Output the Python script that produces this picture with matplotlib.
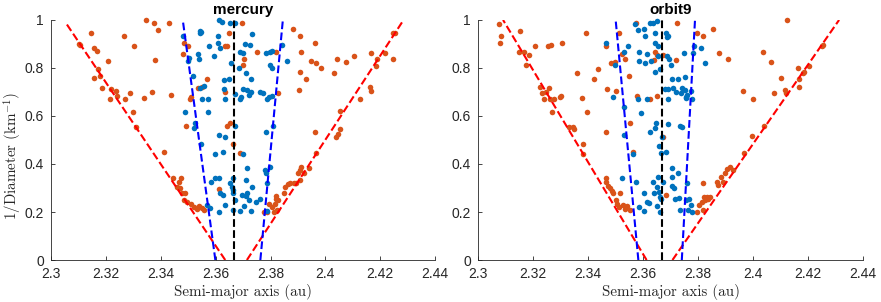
import numpy as np
import matplotlib
matplotlib.use("Agg")
import matplotlib.pyplot as plt
from matplotlib.ticker import FuncFormatter

plt.rcParams['font.family'] = ['Liberation Sans', 'DejaVu Sans']
plt.rcParams['mathtext.fontset'] = 'cm'
plt.rcParams['axes.formatter.use_mathtext'] = False

BLUE = '#0072BD'
ORANGE = '#D95319'

# ---- mercury panel -------------------------------------------------------
mercury_out_a = [
    2.3101, 2.3107, 2.3146, 2.3158, 2.3168, 2.3170, 2.3158, 2.3180, 2.3187,
    2.3206, 2.3216, 2.3220, 2.3238, 2.3240, 2.3271, 2.3289, 2.3267, 2.3301,
    2.3299, 2.3311, 2.3340, 2.3347, 2.3367, 2.3374, 2.3378, 2.3389, 2.3429,
    2.3438, 2.3413, 2.3443, 2.3465, 2.3474, 2.3459, 2.3471, 2.3477, 2.3489,
    2.3483, 2.3495, 2.3510, 2.3520, 2.3532, 2.3540, 2.3550, 2.3556, 2.3480,
    2.3486, 2.3499, 2.3493, 2.3508, 2.3511, 2.3535, 2.3550, 2.3568, 2.3611,
    2.3633, 2.3641, 2.3647, 2.3635, 2.3641, 2.3653, 2.3665, 2.3690, 2.3696,
    2.3698, 2.3705, 2.3750, 2.3777, 2.3787, 2.3793, 2.3805, 2.3811, 2.3820,
    2.3821, 2.3827, 2.3817, 2.3823, 2.3826, 2.3821, 2.3848, 2.3854, 2.3862,
    2.3872, 2.3884, 2.3894, 2.3902, 2.3906, 2.3908, 2.3911, 2.3923, 2.3939,
    2.3882, 2.3906, 2.3912, 2.3906, 2.3905, 2.3930, 2.3947, 2.3963, 2.3967,
    2.3984, 2.3963, 2.3967, 2.4030, 2.4042, 2.4038, 2.4045, 2.4054, 2.4052,
    2.4075, 2.4103, 2.4127, 2.4166, 2.4161, 2.4167, 2.4185, 2.4188, 2.4218,
    2.4246, 2.4246, 2.4254]
mercury_out_d = [
    0.899, 0.896, 0.944, 0.882, 0.871, 0.796, 0.757, 0.767, 0.715,
    0.831, 0.669, 0.711, 0.706, 0.685, 0.669, 0.697, 0.933, 0.893,
    0.615, 0.556, 0.674, 1.000, 0.701, 0.986, 0.833, 0.956, 0.986,
    0.688, 0.451, 0.343, 0.326, 0.340, 0.306, 0.299, 0.278, 0.281,
    0.250, 0.243, 0.233, 0.219, 0.211, 0.225, 0.215, 0.208, 0.857,
    0.903, 0.893, 0.558, 0.669, 0.681, 0.718, 0.722, 0.753, 0.294,
    0.893, 0.893, 0.944, 0.701, 0.558, 0.572, 0.483, 0.444, 0.986,
    0.813, 0.836, 0.868, 0.201, 0.201, 0.233, 0.222, 0.201, 0.253,
    0.267, 0.250, 0.233, 0.208, 0.694, 0.868, 0.281, 0.306, 0.315,
    0.322, 0.322, 0.322, 0.361, 0.333, 0.375, 0.389, 0.361, 0.385,
    0.961, 0.933, 0.865, 0.782, 0.708, 0.753, 0.829, 0.903, 0.819,
    0.799, 0.532, 0.444, 0.781, 0.836, 0.514, 0.524, 0.544, 0.621,
    0.824, 0.850, 0.671, 0.864, 0.722, 0.706, 0.810, 0.836, 0.861,
    0.836, 0.944, 0.947]

mercury_in_a = [
    2.3481, 2.3489, 2.3499, 2.3517, 2.3504, 2.3520, 2.3523, 2.3534, 2.3540,
    2.3542, 2.3544, 2.3548, 2.3542, 2.3550, 2.3548, 2.3559, 2.3572, 2.3574,
    2.3577, 2.3593, 2.3597, 2.3599, 2.3611, 2.3583, 2.3568, 2.3578, 2.3611,
    2.3607, 2.3607, 2.3611, 2.3614, 2.3623, 2.3617, 2.3629, 2.3627, 2.3631,
    2.3635, 2.3635, 2.3635, 2.3617, 2.3627, 2.3647, 2.3651, 2.3653, 2.3656,
    2.3659, 2.3665, 2.3665, 2.3671, 2.3665, 2.3669, 2.3671, 2.3665, 2.3669,
    2.3687, 2.3687, 2.3692, 2.3684, 2.3699, 2.3698, 2.3699, 2.3696, 2.3690,
    2.3704, 2.3708, 2.3712, 2.3714, 2.3710, 2.3714, 2.3712, 2.3715, 2.3720,
    2.3726, 2.3729, 2.3720, 2.3730, 2.3732, 2.3729, 2.3732, 2.3748, 2.3760,
    2.3763, 2.3772, 2.3784, 2.3787, 2.3793, 2.3797, 2.3799, 2.3805, 2.3805,
    2.3809, 2.3784, 2.3781, 2.3783, 2.3787, 2.3797, 2.3789, 2.3805, 2.3841,
    2.3860]
mercury_in_d = [
    0.933, 0.615, 0.829, 0.767, 0.840, 0.549, 0.569, 0.857, 0.836,
    0.947, 0.954, 0.951, 0.718, 0.671, 0.482, 0.725, 0.618, 0.671,
    0.893, 0.850, 0.442, 0.343, 0.340, 0.326, 0.229, 0.215, 0.201,
    0.933, 0.903, 0.521, 1.000, 0.993, 0.885, 0.750, 0.451, 0.711,
    0.511, 0.671, 0.229, 0.281, 0.271, 0.754, 0.986, 0.322, 0.819,
    0.306, 0.292, 0.278, 0.986, 0.343, 0.690, 0.250, 0.208, 0.558,
    0.865, 0.669, 0.681, 0.799, 0.442, 0.864, 0.711, 0.271, 0.204,
    0.225, 0.899, 0.781, 0.708, 0.333, 0.385, 0.267, 0.281, 0.250,
    0.896, 0.701, 0.688, 0.754, 0.942, 0.204, 0.306, 0.243, 0.253,
    0.701, 0.697, 0.864, 0.671, 0.681, 0.868, 0.813, 0.801, 0.683,
    0.558, 0.532, 0.375, 0.364, 0.319, 0.389, 0.206, 0.871, 0.896,
    0.831]

# fitted V-shape borders (a at bottom, a at top, 1/D at top)
mercury_red = [(2.3635, 2.3055, 0.986), (2.3714, 2.4285, 1.0)]
mercury_blue = [(2.3599, 2.3481, 0.993), (2.3763, 2.3845, 1.0)]
mercury_center = 2.3667

# ---- orbit9 panel --------------------------------------------------------
orbit9_out_a = [
    2.3075, 2.3085, 2.3081, 2.3154, 2.3148, 2.3168, 2.3173, 2.3184, 2.3206,
    2.3253, 2.3266, 2.3305, 2.3226, 2.3232, 2.3248, 2.3257, 2.3241, 2.3260,
    2.3269, 2.3275, 2.3299, 2.3301, 2.3329, 2.3347, 2.3350, 2.3359, 2.3378,
    2.3381, 2.3381, 2.3396, 2.3392, 2.3420, 2.3436, 2.3466, 2.3468, 2.3466,
    2.3465, 2.3465, 2.3474, 2.3480, 2.3486, 2.3492, 2.3502, 2.3505, 2.3514,
    2.3517, 2.3526, 2.3535, 2.3541, 2.3553, 2.3483, 2.3499, 2.3502, 2.3514,
    2.3523, 2.3535, 2.3549, 2.3551, 2.3565, 2.3575, 2.3577, 2.3626, 2.3640,
    2.3644, 2.3650, 2.3652, 2.3674, 2.3674, 2.3682, 2.3720, 2.3725, 2.3797,
    2.3805, 2.3813, 2.3819, 2.3817, 2.3822, 2.3825, 2.3831, 2.3837, 2.3843,
    2.3795, 2.3819, 2.3853, 2.3870, 2.3874, 2.3882, 2.3889, 2.3898, 2.3906,
    2.3918, 2.3928, 2.3877, 2.3910, 2.3962, 2.3967, 2.3995, 2.4001, 2.4037,
    2.4065, 2.4039, 2.4076, 2.4100, 2.4116, 2.4122, 2.4119, 2.4162, 2.4166,
    2.4168, 2.4182, 2.4186, 2.4204, 2.4249, 2.4255]
orbit9_out_d = [
    0.983, 0.933, 0.903, 0.954, 0.865, 0.868, 0.813, 0.854, 0.893,
    0.892, 0.896, 0.903, 0.719, 0.694, 0.701, 0.715, 0.669, 0.669,
    0.615, 0.669, 0.678, 0.683, 0.556, 0.556, 0.544, 0.781, 0.674,
    0.482, 0.442, 0.618, 0.944, 0.753, 0.796, 0.893, 0.711, 0.532,
    0.340, 0.326, 0.308, 0.299, 0.288, 0.278, 0.250, 0.233, 0.222,
    0.281, 0.229, 0.211, 0.226, 0.208, 0.819, 0.826, 0.706, 0.944,
    0.858, 0.836, 0.767, 0.569, 0.451, 0.986, 0.685, 0.671, 0.833,
    0.868, 0.854, 0.683, 0.854, 0.514, 0.271, 0.833, 0.986, 0.201,
    0.229, 0.243, 0.208, 0.319, 0.264, 0.250, 0.264, 0.253, 0.261,
    0.944, 0.933, 0.961, 0.326, 0.313, 0.344, 0.326, 0.364, 0.378,
    0.389, 0.375, 0.864, 0.836, 0.706, 0.444, 0.517, 0.669, 0.868,
    0.826, 0.558, 0.694, 0.757, 0.708, 1.000, 0.697, 0.799, 0.753,
    0.719, 0.781, 0.785, 0.810, 0.893, 0.896]

orbit9_in_a = [
    2.3465, 2.3499, 2.3492, 2.3529, 2.3547, 2.3529, 2.3532, 2.3565, 2.3523,
    2.3569, 2.3575, 2.3583, 2.3586, 2.3584, 2.3583, 2.3593, 2.3587, 2.3604,
    2.3605, 2.3604, 2.3606, 2.3607, 2.3613, 2.3616, 2.3613, 2.3620, 2.3626,
    2.3626, 2.3629, 2.3635, 2.3638, 2.3640, 2.3644, 2.3644, 2.3644, 2.3647,
    2.3644, 2.3650, 2.3652, 2.3650, 2.3656, 2.3656, 2.3656, 2.3658, 2.3659,
    2.3662, 2.3662, 2.3662, 2.3664, 2.3666, 2.3670, 2.3672, 2.3680, 2.3682,
    2.3684, 2.3686, 2.3686, 2.3690, 2.3692, 2.3692, 2.3692, 2.3696, 2.3702,
    2.3704, 2.3707, 2.3704, 2.3710, 2.3714, 2.3716, 2.3707, 2.3726, 2.3720,
    2.3728, 2.3732, 2.3734, 2.3741, 2.3737, 2.3753, 2.3750, 2.3753, 2.3756,
    2.3759, 2.3755, 2.3765, 2.3734, 2.3741, 2.3756, 2.3761, 2.3768, 2.3773,
    2.3773, 2.3779, 2.3779, 2.3783, 2.3785, 2.3810, 2.3825]
orbit9_in_d = [
    0.903, 0.813, 0.681, 0.868, 0.893, 0.639, 0.521, 0.442, 0.340,
    0.983, 0.326, 0.956, 0.868, 0.831, 0.669, 0.614, 0.219, 0.206,
    0.961, 0.281, 0.933, 0.822, 0.669, 0.858, 0.240, 0.239, 0.986,
    0.535, 0.829, 0.989, 0.326, 0.281, 0.947, 0.903, 0.785, 0.572,
    0.549, 0.306, 0.225, 0.997, 0.893, 0.850, 0.347, 0.285, 0.475,
    0.794, 0.264, 0.201, 0.253, 0.444, 0.511, 0.326, 0.712, 0.944,
    0.451, 0.928, 0.850, 0.933, 0.671, 0.711, 0.567, 0.836, 0.813,
    0.382, 0.344, 0.308, 0.715, 0.301, 0.253, 0.753, 0.753, 0.701,
    0.361, 0.257, 0.208, 0.718, 0.697, 0.708, 0.864, 0.761, 0.678,
    0.688, 0.674, 0.208, 0.558, 0.556, 0.250, 0.319, 0.253, 0.229,
    0.706, 0.669, 0.201, 0.861, 0.892, 0.882, 0.822]

orbit9_red = [(2.3613, 2.3091, 1.0), (2.3707, 2.4313, 1.0)]
orbit9_blue = [(2.3583, 2.3501, 0.993), (2.3741, 2.3789, 1.0)]
orbit9_center = 2.3668

x_ticks = [2.30, 2.32, 2.34, 2.36, 2.38, 2.40, 2.42, 2.44]
y_ticks = [0, 0.2, 0.4, 0.6, 0.8, 1.0]


def draw_panel(ax, title, out_a, out_d, in_a, in_d, red, blue, center):
    """Scatter the two families and draw the V-shape borders."""
    ax.plot(out_a, out_d, 'o', color=ORANGE, ms=4.0, mew=0, zorder=2,
            clip_on=False)
    ax.plot(in_a, in_d, 'o', color=BLUE, ms=4.0, mew=0, zorder=2,
            clip_on=False)
    for a0, a1, d1 in red:
        ax.plot([a0, a1], [0, d1], '--', color='red', lw=1.5, zorder=3)
    for a0, a1, d1 in blue:
        ax.plot([a0, a1], [0, d1], '--', color='blue', lw=1.5, zorder=3)
    ax.plot([center, center], [0, 1], '--', color='black', lw=1.5, zorder=3)

    ax.set_xlim(2.3, 2.44)
    ax.set_ylim(0, 1)
    ax.set_xticks(x_ticks)
    ax.set_yticks(y_ticks)
    fmt = FuncFormatter(lambda v, _: f"{v:g}")
    ax.xaxis.set_major_formatter(fmt)
    ax.yaxis.set_major_formatter(fmt)
    ax.tick_params(direction='in', length=3, width=0.6, colors='#262626',
                   labelsize=10)
    ax.tick_params(axis='x', pad=5)
    ax.tick_params(axis='y', pad=5)
    for side in ('top', 'right'):
        ax.spines[side].set_visible(False)
    for side in ('left', 'bottom'):
        ax.spines[side].set_color('#262626')
        ax.spines[side].set_linewidth(0.6)
    ax.set_title(title, fontsize=11, fontweight='bold', pad=4)
    ax.set_xlabel('Semi-major axis (au)', family='cmr10', fontsize=10.7,
                  color='#262626', labelpad=2)


def fit_size(fig, txt, target_px):
    """Rescale a text so that its width spans target_px pixels."""
    fig.canvas.draw()
    bb = txt.get_window_extent(renderer=fig.canvas.get_renderer())
    txt.set_fontsize(txt.get_fontsize() * target_px / bb.width)


fig = plt.figure(figsize=(8.81, 3.02), dpi=100)
ax1 = fig.add_axes([0.0579, 0.139, 0.436, 0.795])
ax2 = fig.add_axes([0.5426, 0.139, 0.437, 0.795])

draw_panel(ax1, 'mercury', mercury_out_a, mercury_out_d,
           mercury_in_a, mercury_in_d, mercury_red, mercury_blue,
           mercury_center)
draw_panel(ax2, 'orbit9', orbit9_out_a, orbit9_out_d,
           orbit9_in_a, orbit9_in_d, orbit9_red, orbit9_blue,
           orbit9_center)

# x labels span about 138 px in the target
for ax in (ax1, ax2):
    fit_size(fig, ax.xaxis.label, 138)
label_size = ax1.xaxis.label.get_fontsize()

ax1.set_ylabel('1/Diameter (km$^{-1}$)', family='cmr10', fontsize=label_size,
               color='#262626')
ax1.yaxis.label.set_va('center')
ax1.yaxis.set_label_coords(-0.1, 0.433)

fig.savefig('out.png', dpi=100)
